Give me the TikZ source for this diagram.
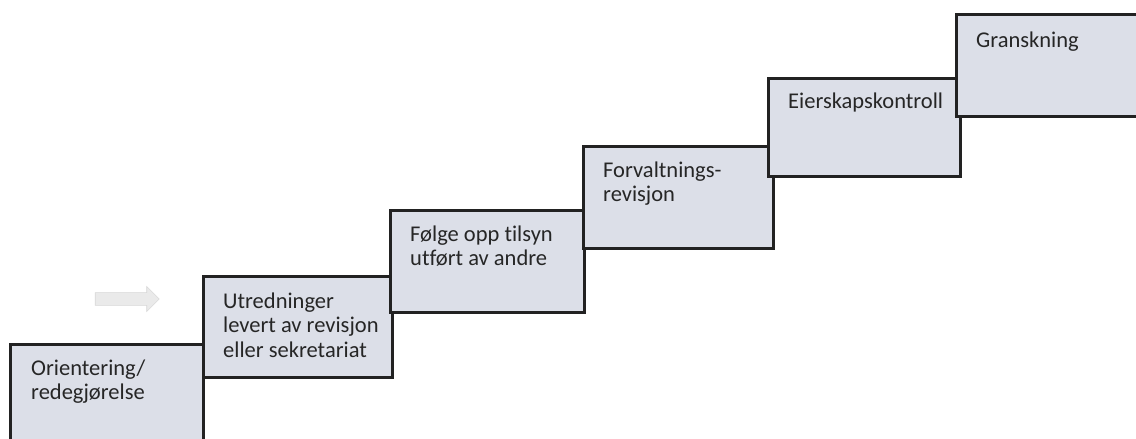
\documentclass[tikz,border=0pt]{standalone}
\usepackage{fontspec}
\setmainfont[Ligatures=CommonOff]{Carlito}
\usetikzlibrary{shapes.arrows}
\definecolor{boxfill}{HTML}{DCDFE8}
\definecolor{boxline}{HTML}{222222}
\definecolor{arrfill}{HTML}{EAEAEA}
\definecolor{arrline}{HTML}{D8D8D8}
\tikzset{
  stepbox/.style={draw=boxline, line width=2.8pt, fill=boxfill, rectangle, inner sep=0pt, anchor=north west},
  txt/.style={font=\fontsize{22.5}{24.5}\selectfont, align=left, inner sep=0pt, anchor=base west, text=black!85},
}
\begin{document}
\begin{tikzpicture}[x=1pt,y=-1pt]
\useasboundingbox (0,0) rectangle (1136,439);
\node[stepbox, minimum width=193pt, minimum height=110pt] (b1) at (9,343) {};
\node[stepbox, minimum width=189pt, minimum height=101pt] (b2) at (202,275) {};
\node[stepbox, minimum width=194pt, minimum height=102pt] (b3) at (389,209) {};
\node[stepbox, minimum width=190pt, minimum height=102pt] (b4) at (582,145) {};
\node[stepbox, minimum width=192pt, minimum height=98pt] (b5) at (767,77) {};
\node[stepbox, minimum width=200pt, minimum height=102pt] (b6) at (955,13) {};
\node[txt] (t1) at ([shift={(22,56.5)}]b1.north west) {Orientering/\\redegjørelse};
\node[txt] (t2) at ([shift={(21,82)}]b2.north west) {Utredninger\\levert av revisjon\\eller sekretariat};
\node[txt] (t3) at ([shift={(21,56.5)}]b3.north west) {Følge opp tilsyn\\utført av andre};
\node[txt] (t4) at ([shift={(21,56.5)}]b4.north west) {Forvaltnings-\\revisjon};
\node[txt] (t5) at ([shift={(21,31)}]b5.north west) {Eierskapskontroll};
\node[txt] (t6) at ([shift={(21,34)}]b6.north west) {Granskning};
\node[single arrow, draw=arrline, fill=arrfill, line width=0.6pt, minimum height=64pt, minimum width=25pt, single arrow head extend=6pt, inner xsep=0pt, inner ysep=6pt] (arr) at (124,299) {};
\end{tikzpicture}
\end{document}
